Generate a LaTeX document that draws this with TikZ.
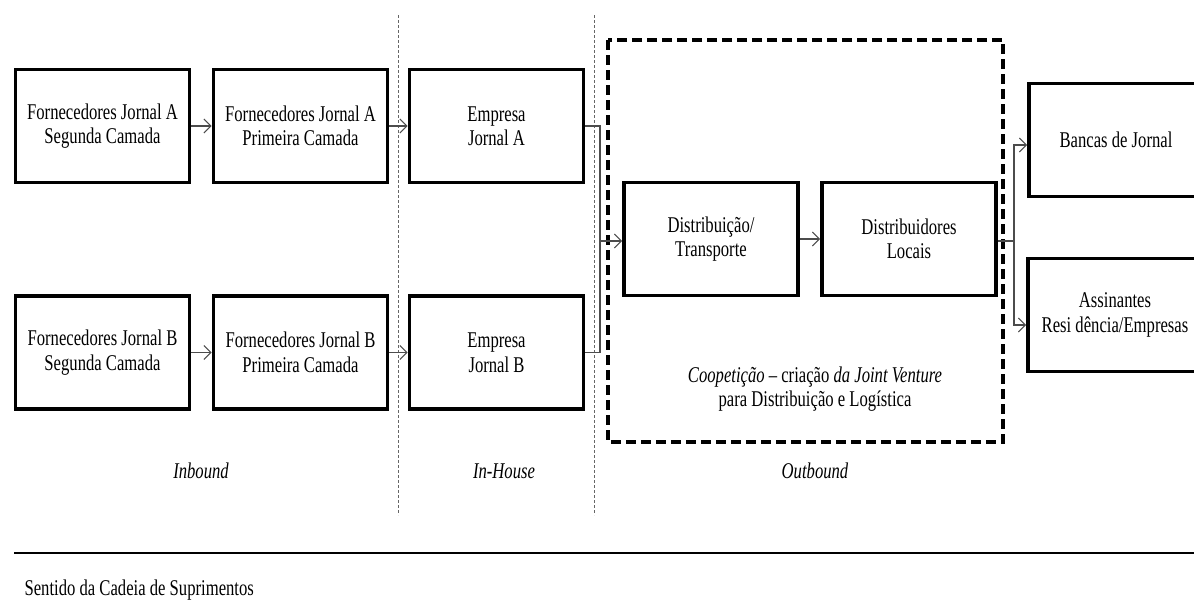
\documentclass[tikz,border=0pt]{standalone}
\usepackage{fontspec}
\setmainfont{Liberation Serif}[FakeStretch=0.74]
\usetikzlibrary{arrows.meta}
\begin{document}
\begin{tikzpicture}[x=1pt,y=-1pt,
  every node/.style={font=\fontsize{22.5}{24.5}\selectfont},
  stage/.style={draw, line width=3.6pt, minimum width=174pt, minimum height=113pt,
                inner sep=0pt, align=center},
  link/.style={line width=1.1pt, draw=black!70},
  flow/.style={link, -{Straight Barb[length=7pt,width=14pt,line width=1.1pt]}},
  divider/.style={line width=0.9pt, draw=black!60, dash pattern=on 3pt off 2pt},
  jvframe/.style={line width=3.4pt, dash pattern=on 10pt off 5pt},
  phase/.style={font=\fontsize{22.5}{24.5}\selectfont\itshape}]
\useasboundingbox (0,0) rectangle (1194,600);
\clip (0,0) rectangle (1194,600);

% phase dividers
\draw[divider] (398,15) -- (398,515);
\draw[divider] (594,15) -- (594,515);

% joint venture frame
\draw[jvframe] (608,40) rectangle (1003,442);
\node[align=center] (jvtext) at (815,389)
  {\textit{Coopetição} – criação \textit{da Joint Venture}\\para Distribuição e Logística};

% stages
\node[stage] (fa2) at (102.5,126) {Fornecedores Jornal A\\Segunda Camada};
\node[stage] (fa1) at (300.5,126) {Fornecedores Jornal A\\Primeira Camada};
\node[stage] (ea)  at (496.5,126) {Empresa\\Jornal A};
\node[stage] (fb2) at (102.5,352.5) {Fornecedores Jornal B\\Segunda Camada};
\node[stage] (fb1) at (300.5,352.5) {Fornecedores Jornal B\\Primeira Camada};
\node[stage] (eb)  at (496.5,352.5) {Empresa\\Jornal B};
\node[stage] (dt)  at (711,239) {Distribuição/\\Transporte};
\node[stage] (dl)  at (909,239) {Distribuidores\\Locais};
\node[stage] (bj)  at (1116,140) {Bancas de Jornal};
\node[stage] (ar)  at (1115,315) {Assinantes\\Resi dência/Empresas};

% flows
\draw[flow] (fa2) -- (fa1);
\draw[flow] (fa1) -- (ea);
\draw[flow] (fb2) -- (fb1);
\draw[flow] (fb1) -- (eb);

\coordinate (merge) at (600,241);
\draw[link] (ea.east) -| (merge);
\draw[link] (eb.east) -| (merge);
\draw[flow] (merge) -- (dt.west |- merge);
\draw[flow] (dt) -- (dl);

\coordinate (split) at (1014,241);
\draw[link] (dl.east |- split) -- (split);
\draw[flow] (split) |- ([yshift=-5pt]bj.west);
\draw[flow] (split) |- ([yshift=-10pt]ar.west);

% phase labels
\node[phase] (inb) at (201,471) {Inbound};
\node[phase] (inh) at (504,471) {In-House};
\node[phase] (outb) at (815,471) {Outbound};

% supply chain direction
\draw[line width=1.6pt] (14,553) -- (1194,553);
\node[anchor=west] (dir) at (21,590) {Sentido da Cadeia de Suprimentos};
\end{tikzpicture}
\end{document}
